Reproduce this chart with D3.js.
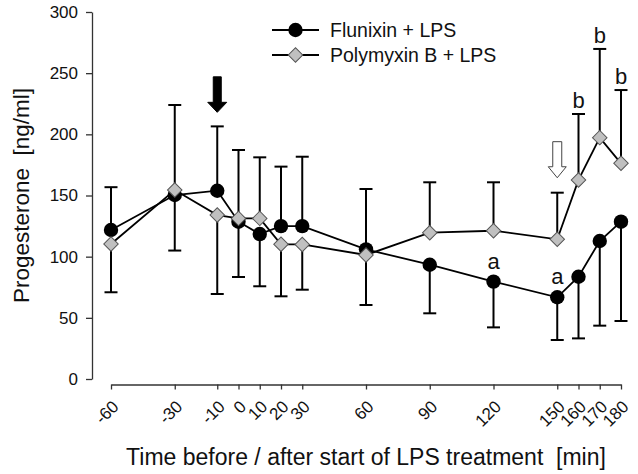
<!DOCTYPE html>
<html>
<head>
<meta charset="utf-8">
<script src="https://cdn.jsdelivr.net/npm/d3@7"></script>
<style>
  body { margin: 0; background: #fff; }
  svg { font-family: Arial, "Liberation Sans", sans-serif; }
</style>
</head>
<body>
<div id="chart"></div>
<script>
// sampling times relative to LPS start (min)
const times = [-60, -30, -10, 0, 10, 20, 30, 60, 90, 120, 150, 160, 170, 180];

// progesterone means (ng/ml) and signed error (+ up, - down)
const flunixin = [121.8, 150.4, 153.9, 128.6, 118.5, 125, 125, 106, 93.4, 79.6, 66.8, 83.6, 112.8, 128.6];
const flunixinErr = [35, -45.4, 52.6, -45.2, -42.7, 48.6, 56.7, 49.3, -39.7, -37.4, -34.9, -50.4, -69.2, -81.2];
const flunixinMarks = ["", "", "", "", "", "", "", "", "", "a", "a", "", "", ""];

const polymyxin = [110.4, 154.5, 134, 131.3, 131.3, 110.1, 110, 101.4, 119.6, 121.2, 114.2, 162.7, 197.3, 176.3];
const polymyxinErr = [-39.5, 69.5, -64.5, 55.9, 49.9, -42.5, -37, -40.9, 41.2, 39.6, 38.1, 53.9, 72.5, 59.9];
const polymyxinMarks = ["", "", "", "", "", "", "", "", "", "", "", "b", "b", "b"];

const yTicks = [0, 50, 100, 150, 200, 250, 300];

// treatment arrows: time and value span (top, tip)
const arrows = [
  { time: -10, top: 247, tip: 218, filled: true },
  { time: 150, top: 194, tip: 164.5, filled: false },
];

const series = [
  { name: "Flunixin + LPS", values: flunixin, err: flunixinErr, marks: flunixinMarks, shape: "circle" },
  { name: "Polymyxin B + LPS", values: polymyxin, err: polymyxinErr, marks: polymyxinMarks, shape: "diamond" },
];

const width = 638, height = 474;
const svg = d3.select("#chart").append("svg").attr("width", width).attr("height", height);

const x = d3.scaleLinear().domain([-60, 180]).range([111, 621]);
const y = d3.scaleLinear().domain([0, 300]).range([379, 12]);
const axisX = 92, axisY = 384.5;

// axes
const gy = svg.append("g")
  .attr("transform", `translate(${axisX},0)`)
  .call(d3.axisLeft(y).tickValues(yTicks).tickSize(6).tickPadding(8).tickSizeOuter(0));
gy.selectAll("text").attr("font-size", 17).attr("fill", "#111").attr("font-family", null);
gy.selectAll("line, path").attr("stroke", "#333").attr("stroke-width", 1.3);

const gx = svg.append("g")
  .attr("transform", `translate(0,${axisY})`)
  .call(d3.axisBottom(x).tickValues(times).tickSize(5).tickSizeOuter(0).tickFormat((d) => String(d)));
gx.selectAll("line, path").attr("stroke", "#333").attr("stroke-width", 1.3);
gx.selectAll("text")
  .attr("font-size", 17).attr("fill", "#111").attr("font-family", null)
  .attr("text-anchor", "end")
  .attr("y", 0).attr("dy", "0.35em")
  .attr("transform", "translate(4,19) rotate(-45)");

svg.append("text")
  .attr("transform", `translate(29,${(12 + 379) / 2}) rotate(-90)`)
  .attr("text-anchor", "middle")
  .attr("font-size", 22.5)
  .attr("fill", "#111")
  .style("white-space", "pre")
  .text("Progesterone  [ng/ml]");

svg.append("text")
  .attr("x", 366).attr("y", 465)
  .attr("text-anchor", "middle")
  .attr("font-size", 23)
  .attr("fill", "#111")
  .style("white-space", "pre")
  .text("Time before / after start of LPS treatment  [min]");

const diamond = d3.symbol().type(d3.symbolSquare).size(105);

function drawMarker(g, shape, cx, cy) {
  if (shape === "circle") {
    g.append("circle").attr("cx", cx).attr("cy", cy).attr("r", 7.2).attr("fill", "#000");
  } else {
    g.append("path").attr("d", diamond())
      .attr("transform", `translate(${cx},${cy}) rotate(45)`)
      .attr("fill", "#c0c0c0").attr("stroke", "#555").attr("stroke-width", 1);
  }
}

// error bars
series.forEach((s) => {
  const g = svg.append("g");
  s.values.forEach((v, i) => {
    const end = v + s.err[i];
    g.append("line").attr("x1", x(times[i])).attr("x2", x(times[i]))
      .attr("y1", y(v)).attr("y2", y(end)).attr("stroke", "#000").attr("stroke-width", 2);
    g.append("line").attr("x1", x(times[i]) - 6.5).attr("x2", x(times[i]) + 6.5)
      .attr("y1", y(end)).attr("y2", y(end)).attr("stroke", "#000").attr("stroke-width", 2);
  });
});

// lines and markers
const line = d3.line().x((d, i) => x(times[i])).y((d) => y(d));
series.forEach((s) => {
  const g = svg.append("g");
  g.append("path").datum(s.values).attr("d", line)
    .attr("fill", "none").attr("stroke", "#000").attr("stroke-width", 1.8);
  s.values.forEach((v, i) => drawMarker(g, s.shape, x(times[i]), y(v)));
});

// significance letters
series.forEach((s) => {
  s.marks.forEach((m, i) => {
    if (!m) return;
    const v = s.values[i];
    const ref = s.err[i] > 0 ? y(v + s.err[i]) - 6 : y(v) - 13;
    svg.append("text").attr("x", x(times[i])).attr("y", ref)
      .attr("text-anchor", "middle").attr("font-size", 22).attr("fill", "#111").text(m);
  });
});

// treatment arrows
arrows.forEach((a) => {
  const cx = x(a.time), top = y(a.top), tip = y(a.tip);
  const shaft = a.filled ? 4 : 4.5, head = a.filled ? 9.5 : 9, headH = a.filled ? 10 : 11;
  const pts = [
    [cx - shaft, top], [cx + shaft, top], [cx + shaft, tip - headH], [cx + head, tip - headH],
    [cx, tip], [cx - head, tip - headH], [cx - shaft, tip - headH],
  ];
  svg.append("path").attr("d", "M" + pts.map((p) => p.join(",")).join("L") + "Z")
    .attr("fill", a.filled ? "#000" : "#fff")
    .attr("stroke", a.filled ? "#000" : "#444").attr("stroke-width", 1);
});

// legend
const legend = svg.append("g");
series.forEach((s, i) => {
  const ly = 30 + i * 25;
  legend.append("line").attr("x1", 272).attr("x2", 319).attr("y1", ly).attr("y2", ly)
    .attr("stroke", "#000").attr("stroke-width", 1.8);
  drawMarker(legend, s.shape, 295.5, ly);
  legend.append("text").attr("x", 330).attr("y", ly).attr("dy", "0.36em")
    .attr("font-size", 19.5).attr("fill", "#111").text(s.name);
});
</script>
</body>
</html>
